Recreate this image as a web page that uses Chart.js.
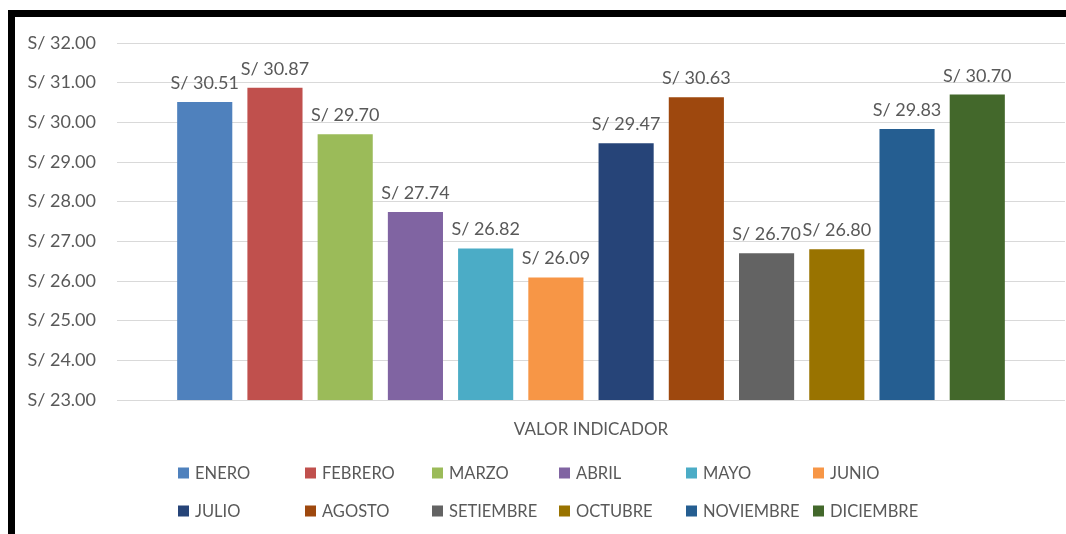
<!DOCTYPE html>
<html>
<head>
<meta charset="utf-8">
<script src="https://cdn.jsdelivr.net/npm/chart.js@4/dist/chart.umd.min.js"></script>
<style>
  html, body { margin: 0; padding: 0; background: #ffffff; }
  #wrap { position: relative; width: 1066px; height: 534px; overflow: hidden; background: #fff; }
  #c { position: absolute; left: 0; top: 0; }
  .bt { position: absolute; left: 8px; top: 10px; width: 1058px; height: 7px; background: #000; }
  .bl { position: absolute; left: 8px; top: 10px; width: 7px; height: 524px; background: #000; }
</style>
</head>
<body>
<div id="wrap">
  <canvas id="c" width="1066" height="534"></canvas>
  <div class="bt"></div>
  <div class="bl"></div>
</div>
<script>
const categories = ['VALOR INDICADOR'];
const months = ['ENERO','FEBRERO','MARZO','ABRIL','MAYO','JUNIO','JULIO','AGOSTO','SETIEMBRE','OCTUBRE','NOVIEMBRE','DICIEMBRE'];
const values = [30.51, 30.87, 29.70, 27.74, 26.82, 26.09, 29.47, 30.63, 26.70, 26.80, 29.83, 30.70];
const colors = ['#4F81BD','#C0504D','#9BBB59','#8064A2','#4BACC6','#F79646','#264478','#9E480E','#636363','#997300','#255E91','#43682B'];
const yMin = 23, yMax = 32, yStep = 1;

const FONT = 'Lato, "Open Sans", sans-serif';
const TEXT = '#595959';
const fmt = v => 'S/ ' + Number(v).toFixed(2);

const datasets = months.map((m, i) => ({
  label: m,
  data: [values[i]],
  backgroundColor: colors[i],
  borderWidth: 0,
  categoryPercentage: 0.889,
  barPercentage: 0.785
}));

const dataLabels = {
  id: 'dataLabels',
  afterDatasetsDraw(chart) {
    const ctx = chart.ctx;
    ctx.save();
    ctx.font = '18px ' + FONT;
    ctx.fillStyle = TEXT;
    ctx.textAlign = 'center';
    ctx.textBaseline = 'alphabetic';
    chart.data.datasets.forEach((ds, i) => {
      const meta = chart.getDatasetMeta(i);
      meta.data.forEach((bar, j) => {
        ctx.fillText(fmt(ds.data[j]), bar.x, bar.y - 13);
      });
    });
    ctx.restore();
  }
};

const gridLegend = {
  id: 'gridLegend',
  afterDraw(chart) {
    const ctx = chart.ctx;
    const cols = 6, x0 = 178, dx = 127, rowY = [473, 511], box = 11;
    ctx.save();
    ctx.font = '16.5px ' + FONT;
    ctx.textBaseline = 'middle';
    ctx.textAlign = 'left';
    chart.data.datasets.forEach((ds, i) => {
      const col = i % cols, row = Math.floor(i / cols);
      const x = x0 + col * dx, y = rowY[row];
      ctx.fillStyle = ds.backgroundColor;
      ctx.fillRect(x, y - box / 2, box, box);
      ctx.fillStyle = TEXT;
      ctx.fillText(ds.label, x + 17, y + 1);
    });
    ctx.restore();
  }
};

new Chart(document.getElementById('c'), {
  type: 'bar',
  data: { labels: categories, datasets },
  options: {
    responsive: false,
    devicePixelRatio: 1,
    animation: false,
    layout: { padding: { top: 43, left: 0, right: 1, bottom: 0 } },
    plugins: {
      legend: { display: false },
      tooltip: { enabled: false }
    },
    scales: {
      y: {
        min: yMin, max: yMax,
        ticks: {
          stepSize: yStep,
          callback: v => fmt(v),
          font: { family: FONT, size: 18 },
          color: TEXT,
          padding: 21
        },
        grid: { color: '#D9D9D9', lineWidth: 1, drawTicks: false },
        border: { display: false },
        afterFit: s => { s.width = 117; }
      },
      x: {
        grid: { display: false, drawTicks: false },
        border: { display: false },
        ticks: { font: { family: FONT, size: 17 }, color: TEXT, padding: 19 },
        afterFit: s => { s.height = 134; }
      }
    }
  },
  plugins: [dataLabels, gridLegend]
});
</script>
</body>
</html>
